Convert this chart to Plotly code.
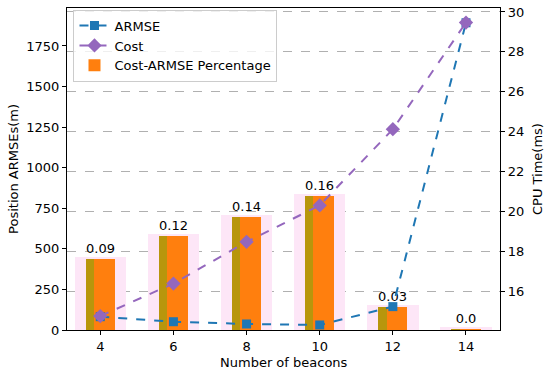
import plotly.graph_objects as go

beacons = [4, 6, 8, 10, 12, 14]
armse = [82, 51, 37, 31, 144, 1893]
cost = [14.75, 16.38, 18.47, 20.3, 24.12, 29.47]
pct_bar = [437, 581, 698, 826, 144, 6]
pct_labels = ["0.09", "0.12", "0.14", "0.16", "0.03", "0.0"]

FONT = "DejaVu Sans"
FS = 13

fig = go.Figure()

# pale pink backdrop bars
fig.add_trace(go.Bar(x=beacons, y=pct_bar, width=1.3, marker=dict(color="#fde6f7", line=dict(color="#fde6f7", width=4)),
                     showlegend=False, hoverinfo="skip", yaxis="y"))
# olive bars with labels
fig.add_trace(go.Bar(x=beacons, y=pct_bar, width=0.8, marker=dict(color="#b8960c", line=dict(width=0)),
                     text=pct_labels, textposition="outside", cliponaxis=False,
                     textfont=dict(family=FONT, size=FS, color="black"),
                     showlegend=False, hoverinfo="skip", yaxis="y"))
# orange inner bars
fig.add_trace(go.Bar(x=beacons, y=pct_bar, width=0.57, offset=-0.17, marker=dict(color="#ff7f0e", line=dict(width=0)),
                     name="Cost-ARMSE Percentage", legendrank=3, yaxis="y"))

fig.add_trace(go.Scatter(x=beacons, y=armse, mode="lines+markers", name="ARMSE", legendrank=1,
                         line=dict(color="#1f77b4", width=2, dash="dash"),
                         marker=dict(symbol="square", size=9, color="#1f77b4"), yaxis="y"))
fig.add_trace(go.Scatter(x=beacons, y=cost, mode="lines+markers", name="Cost", legendrank=2,
                         line=dict(color="#9467bd", width=2, dash="dash"),
                         marker=dict(symbol="diamond", size=11, color="#9467bd"), yaxis="y2"))

axis_common = dict(showline=True, linecolor="black", linewidth=1.3,
                   ticks="outside", ticklen=4, tickcolor="black", zeroline=False,
                   automargin=False, tickfont=dict(size=FS), ticklabeloverflow="allow")

fig.update_layout(
    width=550, height=377,
    margin=dict(l=67, r=50, t=8, b=47),
    paper_bgcolor="white", plot_bgcolor="white",
    barmode="overlay", bargap=0,
    font=dict(family=FONT, size=FS, color="black"),
    xaxis=dict(range=[3.09, 14.93], tickvals=beacons, ticktext=[str(b) for b in beacons],
               mirror=True, showgrid=False, **axis_common),
    yaxis=dict(range=[0, 1984], tickvals=[0, 250, 500, 750, 1000, 1250, 1500, 1750],
               showgrid=False, **axis_common),
    yaxis2=dict(range=[14.05, 30.2], tickvals=[16, 18, 20, 22, 24, 26, 28, 30],
                overlaying="y", side="right",
                showgrid=True, gridcolor="#b0b0b0", griddash="dash", gridwidth=1,
                **axis_common),
    legend=dict(x=0.015, y=0.995, xanchor="left", yanchor="top",
                bgcolor="rgba(255,255,255,0.8)", bordercolor="#cccccc", borderwidth=1,
                font=dict(size=FS), tracegroupgap=0, itemwidth=30),
    showlegend=True,
    annotations=[
        dict(text="Number of beacons", xref="paper", yref="paper", x=0.5, y=-0.0994,
             xanchor="center", yanchor="middle", showarrow=False, font=dict(size=FS)),
        dict(text="Position ARMSEs(m)", xref="paper", yref="paper", x=-0.125, y=0.5,
             xanchor="center", yanchor="middle", showarrow=False, textangle=-90, font=dict(size=FS)),
        dict(text="CPU Time(ms)", xref="paper", yref="paper", x=1.0855, y=0.5,
             xanchor="center", yanchor="middle", showarrow=False, textangle=-90, font=dict(size=FS)),
    ],
)

fig.write_html("out.html", config={"displayModeBar": False},
               post_script="document.body.style.margin='0';")
